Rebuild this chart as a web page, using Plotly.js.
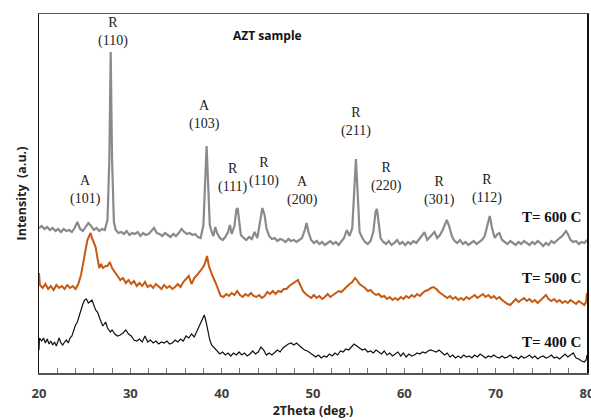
<!DOCTYPE html>
<html>
<head>
<meta charset="utf-8">
<script src="https://cdn.plot.ly/plotly-3.0.1.min.js"></script>
<style>html,body{margin:0;padding:0;background:#fff}#chart{width:591px;height:420px}</style>
</head>
<body>
<div id="chart"></div>
<script>
// 2Theta (deg.) and intensity (a.u., traces offset vertically as in the figure)
const theta600 = [20.0,20.3,20.6,20.9,21.2,21.5,21.8,22.1,22.4,22.7,23.0,23.3,23.6,23.9,24.2,24.5,24.8,25.1,25.4,25.7,26.0,26.3,26.6,26.9,27.2,27.5,27.7,27.85,28.0,28.2,28.4,28.7,29.0,29.3,29.6,29.9,30.2,30.5,30.8,31.1,31.4,31.7,32.0,32.3,32.6,32.9,33.2,33.5,33.8,34.1,34.4,34.7,35.0,35.3,35.6,35.9,36.2,36.5,36.8,37.1,37.4,37.7,38.0,38.2,38.35,38.5,38.7,38.9,39.1,39.3,39.5,39.8,40.1,40.4,40.7,40.9,41.1,41.4,41.6,41.75,41.9,42.1,42.4,42.7,43.0,43.3,43.6,43.9,44.2,44.45,44.7,44.9,45.2,45.5,45.8,46.1,46.4,46.7,47.0,47.3,47.6,47.9,48.2,48.5,48.8,49.1,49.3,49.5,49.8,50.1,50.4,50.7,51.0,51.3,51.6,51.9,52.2,52.5,52.8,53.1,53.4,53.7,54.0,54.3,54.5,54.7,54.9,55.1,55.4,55.7,56.0,56.3,56.6,56.85,57.0,57.2,57.4,57.7,58.0,58.3,58.6,58.9,59.2,59.5,59.8,60.1,60.4,60.7,61.0,61.3,61.6,61.9,62.2,62.5,62.8,63.1,63.3,63.6,63.9,64.2,64.5,64.65,64.9,65.2,65.5,65.8,66.1,66.4,66.7,67.0,67.3,67.6,67.9,68.2,68.5,68.8,69.1,69.35,69.6,69.9,70.2,70.4,70.7,71.0,71.3,71.6,71.9,72.2,72.5,72.8,73.1,73.4,73.7,74.0,74.3,74.6,74.9,75.2,75.5,75.8,76.1,76.4,76.7,77.0,77.3,77.5,77.7,77.9,78.2,78.5,78.8,79.1,79.4,79.7,80.0];
const int600 = [145,147,144,146,143,145,142,144,141,144,142,143,141,145,151,144,142,146,150,147,143,145,142,144,143,153,213,321,213,151,143,140,141,139,142,138,140,139,141,137,140,138,139,142,145,140,139,137,140,138,136,139,137,140,144,141,139,140,138,139,136,135,148,193,227,193,148,141,137,146,140,135,133,136,141,148,139,147,163,165,151,138,135,133,136,134,141,135,151,165,158,145,137,134,135,132,134,133,131,134,132,133,131,133,135,143,150,141,133,130,132,129,131,128,130,132,129,131,128,132,135,143,137,145,183,214,178,141,135,131,129,132,141,161,164,148,135,131,129,132,128,130,133,129,131,128,131,129,132,130,133,137,141,133,136,139,141,135,138,143,151,153,147,137,132,130,133,129,131,128,130,132,129,131,133,137,148,157,145,135,139,140,133,131,129,132,130,128,131,129,132,130,128,131,129,132,130,127,130,128,132,130,133,135,137,140,142,139,133,131,132,129,131,130,133];

const theta500 = [20.0,20.1,20.4,20.7,21.0,21.3,21.6,21.9,22.2,22.5,22.8,23.1,23.4,23.7,24.0,24.3,24.6,24.9,25.1,25.3,25.5,25.65,25.8,26.0,26.2,26.4,26.6,26.8,27.0,27.3,27.5,27.75,28.0,28.3,28.6,28.9,29.2,29.5,29.8,30.1,30.4,30.7,31.0,31.3,31.6,31.9,32.2,32.5,32.8,33.1,33.4,33.7,34.0,34.3,34.6,34.9,35.2,35.5,35.8,36.1,36.4,36.7,37.0,37.3,37.6,37.9,38.1,38.4,38.6,38.8,39.0,39.3,39.6,39.9,40.2,40.5,40.8,41.1,41.4,41.7,42.0,42.3,42.6,42.9,43.2,43.5,43.8,44.1,44.4,44.7,45.0,45.3,45.6,45.9,46.2,46.5,46.8,47.1,47.4,47.7,48.0,48.35,48.6,48.9,49.2,49.5,49.8,50.1,50.4,50.7,51.0,51.3,51.6,51.9,52.2,52.5,52.8,53.1,53.4,53.7,54.0,54.3,54.6,54.8,55.1,55.4,55.7,56.0,56.3,56.6,56.9,57.2,57.5,57.8,58.1,58.4,58.7,59.0,59.3,59.6,59.9,60.2,60.5,60.8,61.1,61.4,61.7,62.0,62.3,62.6,62.9,63.2,63.5,63.8,64.1,64.4,64.7,65.0,65.3,65.6,65.9,66.2,66.5,66.8,67.1,67.4,67.7,68.0,68.3,68.6,68.9,69.2,69.5,69.8,70.1,70.4,70.7,71.0,71.3,71.6,71.9,72.2,72.5,72.8,73.1,73.4,73.7,74.0,74.3,74.6,74.9,75.2,75.5,75.8,76.1,76.4,76.7,77.0,77.3,77.6,77.9,78.2,78.5,78.8,79.1,79.4,79.7,79.9,80.0];
const int500 = [100,88,85,89,84,87,83,88,85,87,84,88,85,87,84,89,98,111,123,133,137,140,135,130,126,115,105,109,105,107,107,111,105,101,97,93,95,90,93,89,92,87,90,87,91,86,88,85,89,86,84,88,85,87,84,86,89,86,91,94,97,89,95,98,101,105,108,117,107,101,97,91,83,77,76,79,77,80,78,82,78,76,79,77,80,77,76,78,75,77,81,79,82,79,82,81,84,84,87,89,91,93,88,82,79,77,75,78,75,77,74,76,79,76,78,80,82,81,84,86,89,91,95,93,89,87,85,82,83,80,78,79,76,77,74,76,73,75,73,76,74,77,75,78,76,79,77,80,82,83,85,86,84,81,79,77,75,77,74,76,73,75,73,76,74,76,78,75,77,79,76,78,75,77,74,76,73,71,69,68,71,74,71,73,75,72,74,71,73,70,73,75,78,74,72,74,71,73,70,72,70,73,71,69,72,70,68,71,80];

const theta400 = [20.0,20.05,20.3,20.5,20.7,20.9,21.1,21.3,21.5,21.7,21.9,22.2,22.4,22.6,22.8,23.0,23.2,23.4,23.6,23.8,24.0,24.2,24.4,24.6,24.8,25.0,25.2,25.4,25.6,25.8,26.0,26.2,26.4,26.6,26.8,27.0,27.3,27.5,27.8,28.0,28.3,28.6,28.9,29.2,29.5,29.8,30.1,30.4,30.7,31.0,31.3,31.6,31.9,32.2,32.5,32.8,33.1,33.4,33.7,34.0,34.3,34.6,34.9,35.2,35.5,35.8,36.1,36.4,36.7,37.0,37.3,37.6,37.9,38.1,38.3,38.5,38.7,38.9,39.2,39.5,39.8,40.1,40.4,40.7,41.0,41.3,41.6,41.9,42.2,42.5,42.8,43.1,43.4,43.7,44.0,44.3,44.6,44.9,45.2,45.5,45.8,46.1,46.4,46.7,47.0,47.3,47.6,47.9,48.2,48.5,48.8,49.1,49.4,49.7,50.0,50.3,50.6,50.9,51.2,51.5,51.8,52.1,52.4,52.7,53.0,53.3,53.6,53.9,54.2,54.5,54.8,55.1,55.4,55.7,56.0,56.3,56.6,56.9,57.2,57.5,57.8,58.1,58.4,58.7,59.0,59.3,59.6,59.9,60.2,60.5,60.8,61.1,61.4,61.7,62.0,62.3,62.6,62.9,63.2,63.5,63.8,64.1,64.4,64.7,65.0,65.3,65.6,65.9,66.2,66.5,66.8,67.1,67.4,67.7,68.0,68.3,68.6,68.9,69.2,69.5,69.8,70.1,70.4,70.7,71.0,71.3,71.6,71.9,72.2,72.5,72.8,73.1,73.4,73.7,74.0,74.3,74.6,74.9,75.2,75.5,75.8,76.1,76.4,76.7,77.0,77.3,77.6,77.9,78.2,78.5,78.8,79.1,79.4,79.7,79.9,80.0];
const int400 = [23,35,32,35,30,34,29,32,28,31,27,35,30,28,31,33,30,35,37,43,48,51,58,63,69,73,74,70,72,73,68,63,61,55,51,47,51,45,41,43,39,37,38,40,43,39,37,33,32,34,31,37,31,33,30,32,29,31,30,32,29,30,33,31,34,32,37,35,39,36,42,47,53,58,51,41,33,28,25,21,19,21,18,20,17,20,18,21,18,20,17,19,22,19,21,26,23,18,20,18,21,23,21,25,27,29,30,28,30,27,25,23,22,20,18,16,18,15,17,16,19,17,20,18,22,21,24,23,26,29,27,25,23,24,21,22,20,23,21,19,22,18,20,17,19,21,17,20,16,19,17,18,20,19,21,20,22,23,22,21,23,20,18,20,16,18,15,17,15,18,16,17,15,18,16,19,17,15,17,16,18,16,15,17,15,16,18,15,16,14,17,15,16,18,15,17,14,16,17,15,16,18,15,16,14,17,19,16,18,20,15,14,12,11,13,18];

const seriesNames = ['T= 600 C', 'T= 500 C', 'T= 400 C'];
const peakPhase = ['A', 'R', 'A', 'R', 'R', 'A', 'R', 'R', 'R', 'R'];
const peakHkl = ['(101)', '(110)', '(103)', '(111)', '(110)', '(200)', '(211)', '(220)', '(301)', '(112)'];
const sampleTitle = 'AZT sample';
const xTicks = [20, 30, 40, 50, 60, 70, 80];

// label placement (layout only)
const peakLabelPos = [[25.12,183],[28.08,341],[38.17,258],[41.23,195],[44.63,201],[48.9,182],[54.7,251],[58.1,196],[63.9,182],[69.0,184]];
const seriesLabelY = [156, 95, 31];

const serif = 'Liberation Serif, Times New Roman, serif';
const traces = [
  {x: theta600, y: int600, name: seriesNames[0], mode: 'lines', line: {color: '#8a8a8a', width: 2.2}},
  {x: theta500, y: int500, name: seriesNames[1], mode: 'lines', line: {color: '#c55a11', width: 2}},
  {x: theta400, y: int400, name: seriesNames[2], mode: 'lines', line: {color: '#111111', width: 1.2}}
];

const annotations = [];
peakPhase.forEach((p, i) => {
  annotations.push({x: peakLabelPos[i][0], y: peakLabelPos[i][1], xref: 'x', yref: 'y',
    text: p + '<br>' + peakHkl[i], showarrow: false, align: 'center',
    font: {family: serif, size: 14, color: '#222'}});
});
seriesNames.forEach((n, i) => {
  annotations.push({x: 79.6, y: seriesLabelY[i], xref: 'x', yref: 'y', xanchor: 'right',
    text: n, showarrow: false, font: {family: serif, size: 15, color: '#111', weight: 'bold'}});
});
annotations.push({x: 45.07, y: 338, xref: 'x', yref: 'y', text: sampleTitle, showarrow: false,
  font: {family: 'Open Sans, sans-serif', size: 12, color: '#111', weight: 'bold'}});

const layout = {
  width: 591, height: 420,
  margin: {l: 39, r: 4, t: 14, b: 47},
  paper_bgcolor: '#fff', plot_bgcolor: '#fff',
  showlegend: false,
  xaxis: {
    range: [20, 80], tickvals: xTicks, ticktext: xTicks.map(String),
    showgrid: false, zeroline: false,
    showline: true, linecolor: '#555', linewidth: 1.5, mirror: true,
    ticks: 'inside', ticklen: 5, tickcolor: '#777', tickwidth: 1,
    minor: {dtick: 2, tick0: 20, ticks: 'inside', ticklen: 5, tickcolor: '#777', showgrid: false},
    ticklabelstandoff: 8, ticklabeloverflow: 'allow',
    tickfont: {family: 'Open Sans, sans-serif', size: 13, color: '#404040', weight: 'bold'},
    title: {text: '2Theta (deg.)', standoff: 5, font: {family: 'Open Sans, sans-serif', size: 12.5, color: '#222', weight: 'bold'}}
  },
  yaxis: {
    range: [0, 359], showgrid: false, zeroline: false, showticklabels: false, ticks: '',
    showline: true, linecolor: '#111', linewidth: 1.5, mirror: true,
    title: {text: 'Intensity  (a.u.)', standoff: 8, font: {family: 'Open Sans, sans-serif', size: 12.5, color: '#222', weight: 'bold'}}
  },
  annotations: annotations
};

Plotly.newPlot('chart', traces, layout, {displayModeBar: false, staticPlot: true});
</script>
</body>
</html>
